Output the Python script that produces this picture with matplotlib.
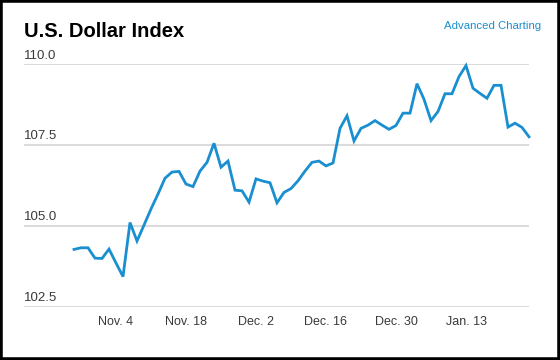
"""
U.S. Dollar Index, daily, Oct. 25 2024 - Jan. 24 2025
"""
import numpy as np
import pandas as pd
import matplotlib
matplotlib.use("Agg")
import matplotlib.pyplot as plt
import matplotlib.transforms as mtransforms
from matplotlib.patches import Rectangle

plt.rcParams['font.family'] = ['Liberation Sans', 'DejaVu Sans']

# weekdays, one point per day
dates = pd.bdate_range("2024-10-25", "2025-01-24")
values = [104.28, 104.33, 104.33, 104.01, 104.00, 104.29, 103.86, 103.44, 105.11, 104.54,
          105.03, 105.53, 105.99, 106.48, 106.67, 106.69, 106.30, 106.22, 106.70, 106.97,
          107.56, 106.82, 107.01, 106.11, 106.09, 105.74, 106.46, 106.39, 106.34, 105.72,
          106.04, 106.16, 106.40, 106.70, 106.97, 107.01, 106.86, 106.95, 108.02, 108.41,
          107.63, 108.02, 108.12, 108.26, 108.12, 107.99, 108.11, 108.49, 108.49, 109.40,
          108.92, 108.26, 108.54, 109.09, 109.09, 109.62, 109.96, 109.26, 109.10, 108.95,
          109.35, 109.35, 108.06, 108.18, 108.05, 107.76]

tick_dates = ["2024-11-04", "2024-11-18", "2024-12-02", "2024-12-16", "2024-12-30", "2025-01-13"]
tick_labels = ["Nov. 4", "Nov. 18", "Dec. 2", "Dec. 16", "Dec. 30", "Jan. 13"]
y_ticks = [102.5, 105.0, 107.5, 110.0]

LINE = "#1a8fd0"
GRID = "#d4d4d4"
TXT = "#3a3a3a"

fig = plt.figure(figsize=(5.6, 3.6), dpi=100)
ax = fig.add_axes([24 / 560, 53 / 360, 505 / 560, 242.7 / 360])

x = np.arange(len(dates))
ax.plot(x, values, color=LINE, lw=2.0, solid_joinstyle="miter", zorder=3, clip_on=False)

ax.set_xlim(-50 / 7, len(dates) - 1)
ax.set_ylim(y_ticks[0], y_ticks[-1])

for s in ax.spines.values():
    s.set_visible(False)

ax.set_yticks(y_ticks)
ax.yaxis.grid(True, color=GRID, lw=1.2)
ax.tick_params(axis="y", length=0, labelleft=False)
trans = mtransforms.blended_transform_factory(ax.transAxes, ax.transData)
for v in y_ticks:
    ax.annotate(f"{v:.1f}", (0, v), xycoords=trans, xytext=(0, 2), textcoords="offset points",
                ha="left", va="bottom", fontsize=9.5, color=TXT)

pos = [dates.get_loc(pd.Timestamp(d)) for d in tick_dates]
ax.set_xticks(pos)
ax.set_xticklabels(tick_labels, fontsize=9, color=TXT)
ax.tick_params(axis="x", length=0, pad=6.5)

fig.text(24 / 560, 1 - 37 / 360, "U.S. Dollar Index", fontsize=14.5, fontweight="bold",
         color="black", ha="left", va="baseline")
fig.text(541 / 560, 1 - 26 / 360, "Advanced Charting", fontsize=8.2, color=LINE,
         ha="right", va="center")

fig.add_artist(Rectangle((0, 0), 1, 1, transform=fig.transFigure, fill=False,
                         edgecolor="black", lw=4))

fig.savefig("out.png", dpi=100)
